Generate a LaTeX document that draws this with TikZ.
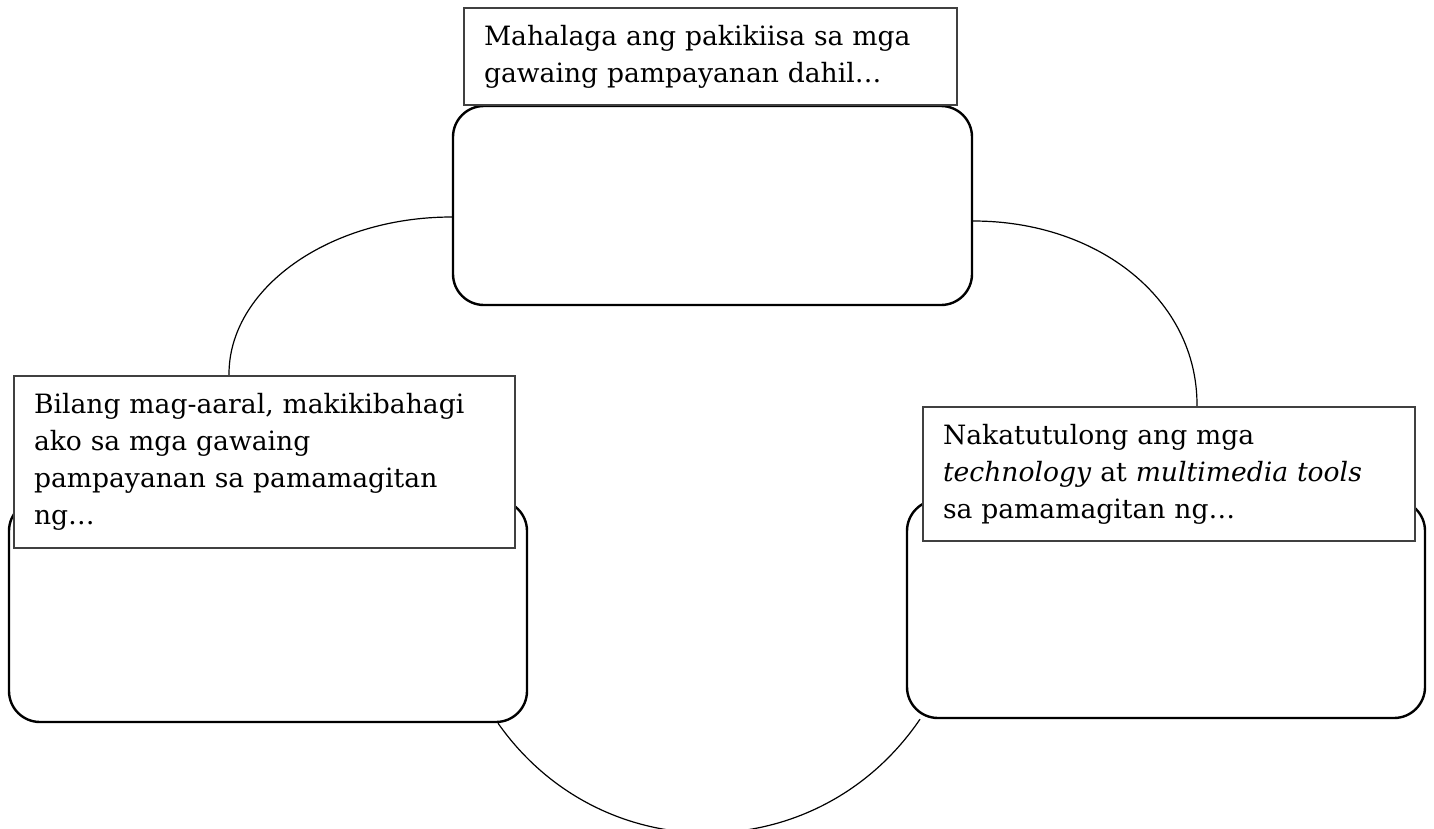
\documentclass[tikz,border=0pt]{standalone}
\usepackage{fontspec}
\setmainfont{DejaVu Serif}
\usetikzlibrary{calc}
\pgfdeclarelayer{bg}
\pgfsetlayers{bg,main}
\begin{document}
\begin{tikzpicture}[x=0.5pt,y=-0.5pt,
  labelbox/.style={draw=black!75, line width=0.6pt, fill=white, rectangle,
    inner xsep=10pt, inner ysep=0pt, align=left,
    font=\fontsize{13.3}{18.5}\selectfont},
  answerbox/.style={draw=black, line width=1.2pt, fill=white, rectangle,
    rounded corners=15.5pt, inner sep=0pt},
  link/.style={draw=black, line width=0.6pt}]
\useasboundingbox (0,0) rectangle (1434,829);

% answer boxes
\node[answerbox, minimum width=259.5pt, minimum height=99.5pt] (tr) at (712.5,205.5) {};
\node[answerbox, minimum width=259pt, minimum height=111pt] (lr) at (268,611) {};
\node[answerbox, minimum width=259pt, minimum height=109pt] (rr) at (1166,609) {};

% prompt boxes
\node[labelbox, text width=226.5pt, minimum height=48.5pt] (tt) at (710.5,56.5)
  {\mbox{Mahalaga ang pakikiisa sa mga}\\\mbox{gawaing pampayanan dahil\ldots}};
\node[labelbox, text width=230.5pt, minimum height=86pt] (lt) at (264.5,462)
  {\mbox{Bilang mag-aaral, makikibahagi}\\\mbox{ako sa mga gawaing}\\\mbox{pampayanan sa pamamagitan}\\\mbox{ng\ldots}};
\node[labelbox, text width=226pt, minimum height=67pt] (rt) at (1169,474)
  {\mbox{Nakatutulong ang mga}\\\mbox{\textit{technology} at \textit{multimedia tools}}\\\mbox{sa pamamagitan ng\ldots}};

% connecting arcs
\begin{pgfonlayer}{bg}
\draw[link] ($(tr.west)+(0,11.5)$) .. controls +(-124,0) and +(-1,-86) .. ($(lt.north)+(-35.5,0)$);
\draw[link] ($(tr.east)+(0,15.5)$) .. controls +(125,0) and +(1,-107) .. ($(rt.north)+(28,0)$);
\draw[link] ($(lr.south)+(230,0)$) .. controls +(104,148) and +(-102,150) .. ($(rr.south)+(-246,0)$);
\end{pgfonlayer}
\end{tikzpicture}
\end{document}
